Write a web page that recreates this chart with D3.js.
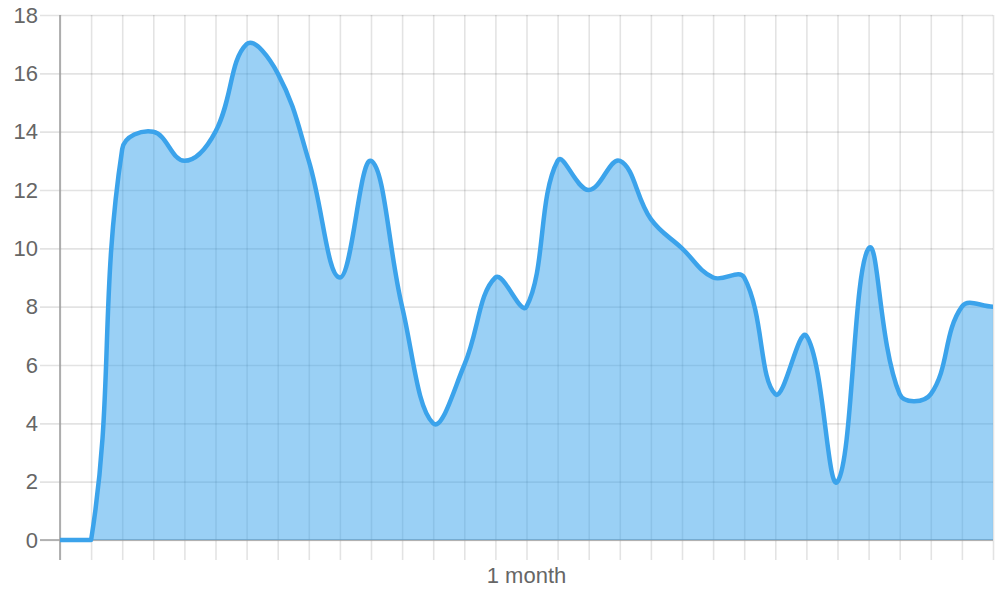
<!DOCTYPE html>
<html lang="en">
  <head>
    <meta charset="utf-8">
    <script src="https://cdnjs.cloudflare.com/ajax/libs/d3/7.8.5/d3.min.js"></script>
    <title>1 month</title>
    <style>
      body { margin: 0; background: #fff; }
      text { font-family: "Liberation Sans", Arial, sans-serif; fill: #666; }
    </style>
  </head>
  <body>
    <script>
    // one value per day
    var days = d3.range(31);
    var counts = [0, 0, 13.4, 14, 13, 14, 17, 16, 13, 9, 13, 8, 4, 6, 9, 8,
                  13, 12, 13, 11, 10, 9, 9, 5, 7, 2, 10, 5, 5, 8, 8];
    var yTicks = [0, 2, 4, 6, 8, 10, 12, 14, 16, 18];
    var xLabel = "1 month";

    var margin = {top: 15, left: 60, bottom: 60, right: 7},
        width = 1000 - margin.left - margin.right,
        height = 600 - margin.top - margin.bottom;

    var x = d3.scaleLinear().domain([0, days.length - 1]).range([0, width]);
    var y = d3.scaleLinear().domain([0, 18]).range([height, 0]);

    var svg = d3.select("body").append("svg")
        .attr("width", 1000)
        .attr("height", 600)
      .append("g")
        .attr("transform", "translate(" + [margin.left, margin.top] + ")");

    var gridColor = "rgba(0,0,0,0.11)";

    // grid
    svg.append("g")
        .call(d3.axisBottom(x).tickValues(days).tickSize(-height - 20).tickFormat(""))
        .attr("transform", "translate(0," + (height + 20) + ")")
        .call(function(g) {
          g.select(".domain").remove();
          g.selectAll("line").attr("stroke", gridColor).attr("stroke-width", 1.6);
        });

    svg.append("g")
        .call(d3.axisLeft(y).tickValues(yTicks).tickSize(-width - 20).tickPadding(2))
        .attr("transform", "translate(-20,0)")
        .call(function(g) {
          g.select(".domain").remove();
          g.selectAll("line").attr("stroke", gridColor).attr("stroke-width", 1.6);
          g.selectAll("text").attr("font-size", 22).attr("fill", "#666")
            .attr("font-family", "Liberation Sans, Arial, sans-serif");
        });

    // axis lines
    svg.append("line")
        .attr("x1", 0).attr("x2", 0).attr("y1", 0).attr("y2", height + 20)
        .attr("stroke", "#a0a0a0").attr("stroke-width", 1.6);
    svg.append("line")
        .attr("x1", -20).attr("x2", width).attr("y1", y(0)).attr("y2", y(0))
        .attr("stroke", "#a0a0a0").attr("stroke-width", 1.6);

    // chart.js style spline (tension 0.4, control points kept inside the area)
    var pts = days.map(function(d, i) { return {x: x(d), y: y(counts[i])}; });
    var tension = 0.4;
    function cap(v, lo, hi) { return Math.max(lo, Math.min(hi, v)); }
    pts.forEach(function(p, i) {
      var prev = pts[i - 1] || p, next = pts[i + 1] || p;
      var d01 = Math.hypot(p.x - prev.x, p.y - prev.y);
      var d12 = Math.hypot(next.x - p.x, next.y - p.y);
      var s01 = d01 / (d01 + d12) || 0, s12 = d12 / (d01 + d12) || 0;
      var fa = tension * s01, fb = tension * s12;
      p.cpx0 = cap(p.x - fa * (next.x - prev.x), 0, width);
      p.cpy0 = cap(p.y - fa * (next.y - prev.y), 0, height);
      p.cpx1 = cap(p.x + fb * (next.x - prev.x), 0, width);
      p.cpy1 = cap(p.y + fb * (next.y - prev.y), 0, height);
    });

    function curve(path) {
      path.moveTo(pts[0].x, pts[0].y);
      for (var i = 1; i < pts.length; i++) {
        var a = pts[i - 1], b = pts[i];
        path.bezierCurveTo(a.cpx1, a.cpy1, b.cpx0, b.cpy0, b.x, b.y);
      }
      return path;
    }

    var area = curve(d3.path());
    area.lineTo(x(days[days.length - 1]), y(0));
    area.lineTo(x(days[0]), y(0));
    area.closePath();

    svg.append("path")
        .attr("d", area.toString())
        .attr("fill", "rgba(54,162,235,0.5)");

    svg.append("path")
        .attr("d", curve(d3.path()).toString())
        .attr("fill", "none")
        .attr("stroke", "#3ba3eb")
        .attr("stroke-width", 4.5)
        .attr("stroke-linejoin", "round");

    svg.append("text")
        .attr("x", width / 2)
        .attr("y", height + 43)
        .attr("text-anchor", "middle")
        .attr("font-size", 22)
        .text(xLabel);
    </script>
  </body>
</html>
